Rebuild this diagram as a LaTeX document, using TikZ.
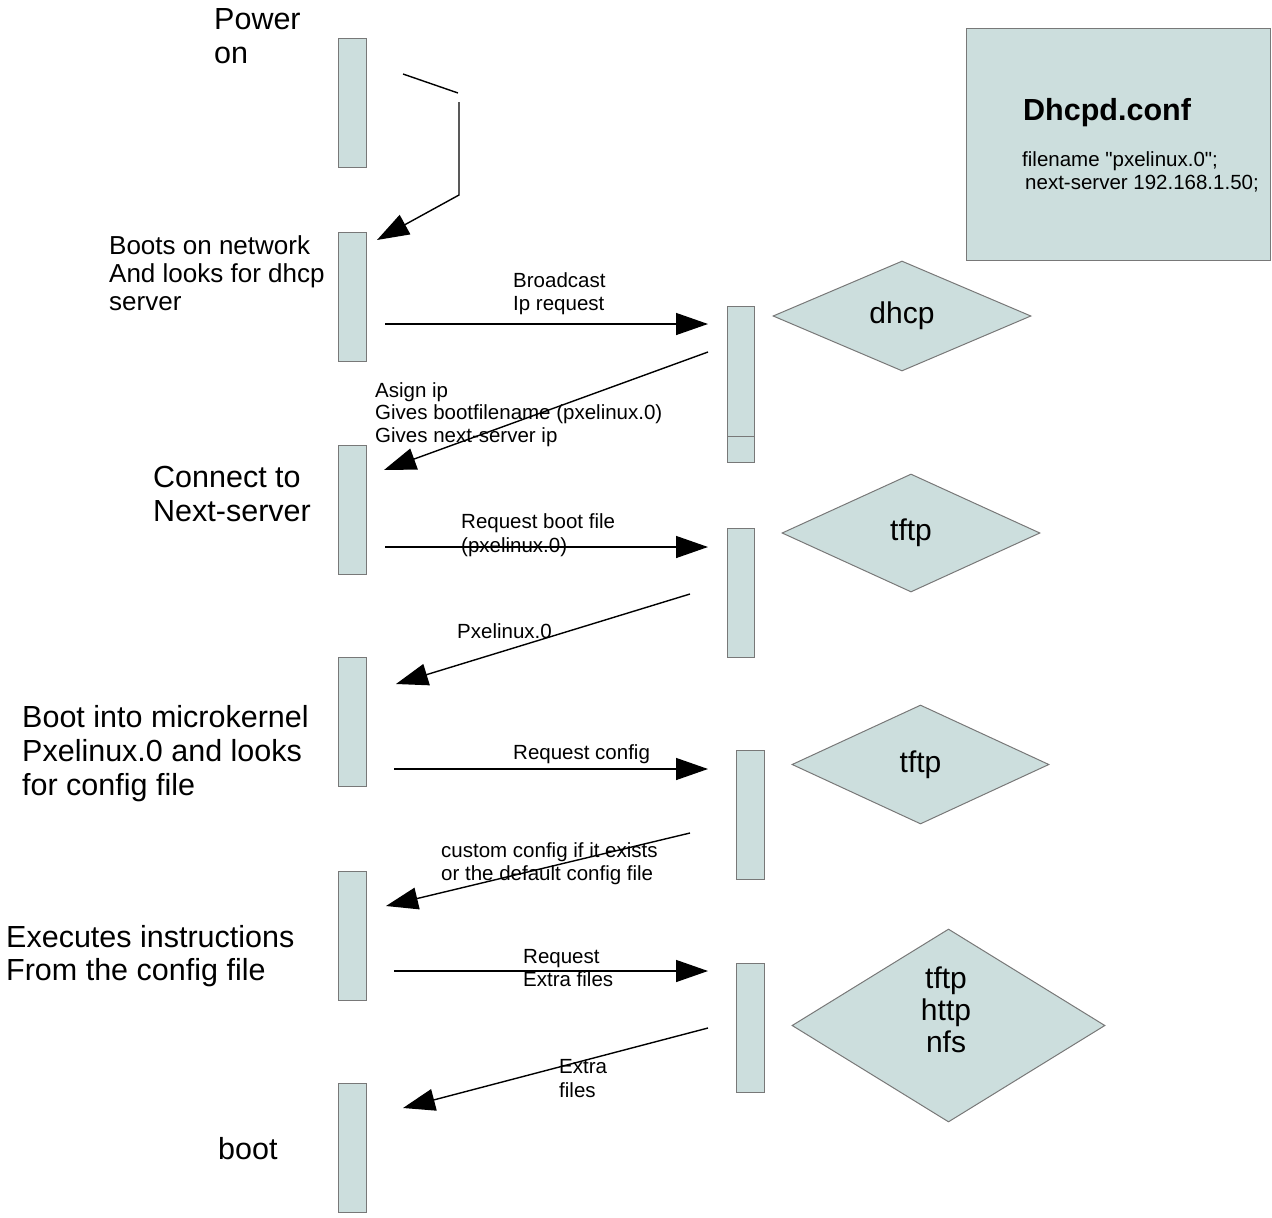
\documentclass[tikz,border=0pt]{standalone}
\usepackage{fontspec}
\setmainfont{Liberation Sans}[Ligatures=TeXOff]
\usetikzlibrary{shapes.geometric,arrows.meta}
\definecolor{boxfill}{RGB}{204,222,221}
\definecolor{boxline}{RGB}{120,120,120}
\begin{document}
\begin{tikzpicture}[x=1pt,y=-1pt,
  bar/.style={draw=boxline, fill=boxfill, line width=1pt, minimum width=28pt, minimum height=129pt, inner sep=0pt, outer sep=0pt},
  dia/.style={draw=boxline, fill=boxfill, line width=1pt, shape=diamond, inner sep=0pt, align=center, font=\fontsize{30}{32}\selectfont},
  msg/.style={line width=1.4pt, -{Triangle[length=32pt,width=22pt]}},
  big/.style={font=\fontsize{30.5}{34}\selectfont, anchor=base west, align=left, inner sep=0pt},
  mid/.style={font=\fontsize{26}{28}\selectfont, anchor=base west, align=left, inner sep=0pt},
  small/.style={font=\fontsize{20.5}{22.5}\selectfont, anchor=base west, align=left, inner sep=0pt},
]
\useasboundingbox (0,0) rectangle (1272,1218);

% left column bars
\node[bar] (B1) at (352,102.5) {};
\node[bar] (B2) at (352,296.5) {};
\node[bar] (B3) at (352,510) {};
\node[bar] (B4) at (352,722) {};
\node[bar] (B5) at (352,935.5) {};
\node[bar] (B6) at (352,1147.5) {};

% right column bars
\node[bar, minimum width=27pt, minimum height=130pt] (R1) at (740.5,371) {};
\node[bar, minimum width=27pt, minimum height=26pt] (R1b) at (740.5,449) {};
\node[bar, minimum width=27pt] (R2) at (740.5,592.5) {};
\node[bar] (R3) at (750,814.5) {};
\node[bar] (R4) at (750,1028) {};

% diamonds
\node[dia, minimum width=258pt, minimum height=110pt] (D1) at (902,316) {dhcp};
\node[dia, minimum width=258pt, minimum height=118pt] (D2) at (911,533) {\raisebox{-3pt}{tftp}};
\node[dia, minimum width=257pt, minimum height=119pt] (D3) at (920.5,764.5) {\raisebox{-2pt}{tftp}};
\node[dia, minimum width=313pt, minimum height=193pt] (D4) at (948.5,1025.5) {};
\node[font=\fontsize{30}{32}\selectfont, align=center, inner sep=0pt] (D4t) at (946,1010) {tftp\\http\\nfs};

% config box
\node[draw=boxline, fill=boxfill, line width=1pt, minimum width=304pt, minimum height=232pt, inner sep=0pt] (conf) at (1118,144) {};
\node[font=\bfseries\fontsize{30.5}{34}\selectfont, anchor=base west, inner sep=0pt] (conft) at (1023,120) {Dhcpd.conf};
\node[small] (confb) at (1022,189) {filename "pxelinux.0";\\\hspace{3pt}next-server 192.168.1.50;};

% left labels
\node[big] (tPower) at (214,63) {Power\\on};
\node[mid] (tBoots) at (109,310) {Boots on network\\And looks for dhcp\\server};
\node[big] (tConn) at (153,521) {Connect to\\Next-server};
\node[big] (tMicro) at (22,795) {Boot into microkernel\\Pxelinux.0 and looks\\for config file};
\node[big, font=\fontsize{30.5}{32.5}\selectfont] (tExec) at (6,980) {Executes instructions\\From the config file};
\node[big] (tBoot) at (218,1159) {boot};

% message labels
\node[small] (lBc) at (513,310) {Broadcast\\Ip request};
\node[small] (lAs) at (375,442) {Asign ip\\Gives bootfilename (pxelinux.0)\\Gives next-server ip};
\node[small, font=\fontsize{20.5}{23.5}\selectfont] (lRb) at (461,552) {Request boot file\\(pxelinux.0)};
\node[small] (lPx) at (457,638) {Pxelinux.0};
\node[small] (lRc) at (513,759) {Request config};
\node[small] (lCc) at (441,880) {custom config if it exists\\or the default config file};
\node[small] (lRe) at (523,986) {Request\\Extra files};
\node[small, font=\fontsize{20.5}{24}\selectfont] (lEf) at (559,1097) {Extra\\files};

% connector end points
\coordinate (p0a) at (403,74);
\coordinate (p0b) at (458,93);
\coordinate (p0c) at (459,102);
\coordinate (p0d) at (459,195);
\coordinate (p0e) at (377,240);
\coordinate (a1s) at (385,324);  \coordinate (a1e) at (708,324);
\coordinate (a2s) at (708,352);  \coordinate (a2e) at (384,470);
\coordinate (a3s) at (385,547);  \coordinate (a3e) at (708,547);
\coordinate (a4s) at (690,594);  \coordinate (a4e) at (396,684);
\coordinate (a5s) at (394,769);  \coordinate (a5e) at (708,769);
\coordinate (a6s) at (690,833);  \coordinate (a6e) at (386,906);
\coordinate (a7s) at (394,971);  \coordinate (a7e) at (708,971);
\coordinate (a8s) at (708,1028); \coordinate (a8e) at (403,1108);

% connectors
\draw[line width=1.4pt] (p0a) -- (p0b);
\draw[msg] (p0c) -- (p0d) -- (p0e);
\draw[msg] (a1s) -- (a1e);
\draw[msg] (a2s) -- (a2e);
\draw[msg] (a3s) -- (a3e);
\draw[msg] (a4s) -- (a4e);
\draw[msg] (a5s) -- (a5e);
\draw[msg] (a6s) -- (a6e);
\draw[msg] (a7s) -- (a7e);
\draw[msg] (a8s) -- (a8e);
\end{tikzpicture}
\end{document}
